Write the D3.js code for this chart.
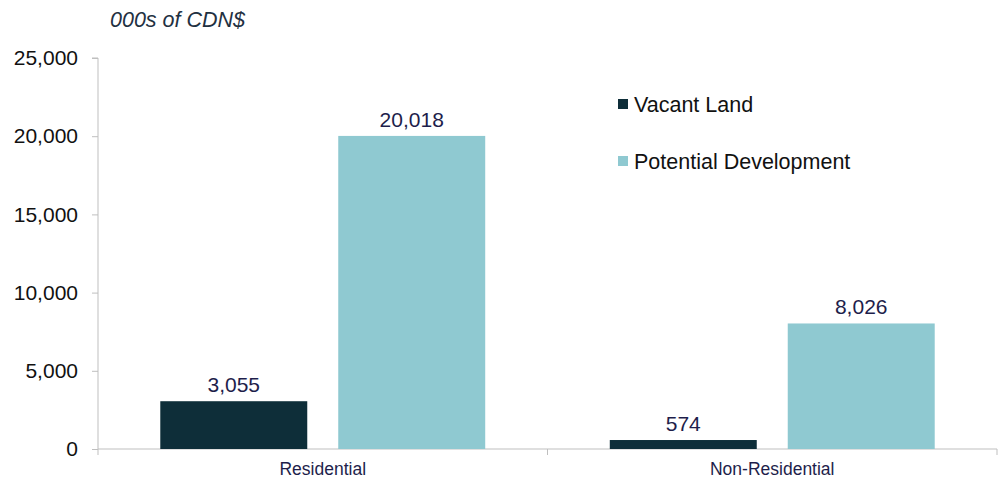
<!DOCTYPE html>
<html>
<head>
<meta charset="utf-8">
<script src="https://cdn.jsdelivr.net/npm/d3@7"></script>
<style>
  html, body { margin: 0; padding: 0; background: #fff; }
  svg { display: block; font-family: Arial, "Liberation Sans", sans-serif; }
</style>
</head>
<body>
<svg id="chart" width="1008" height="479"></svg>
<script>
// Land value by use, thousands of Canadian dollars
const categories = ["Residential", "Non-Residential"];
const seriesNames = ["Vacant Land", "Potential Development"];
const vacantLand = [3055, 574];
const potentialDevelopment = [20018, 8026];
const yTicks = [0, 5000, 10000, 15000, 20000, 25000];
const colors = ["#0e2e39", "#8fc9d1"];

const svg = d3.select("#chart");
const plot = { left: 98, right: 997, top: 58, bottom: 449 };

const x = d3.scaleBand().domain(categories).range([plot.left, plot.right]);
const xs = d3.scaleBand().domain(seriesNames).range([0, x.bandwidth()])
  .paddingInner(31 / 178).paddingOuter(0.35);
const y = d3.scaleLinear().domain([0, 25000]).range([plot.bottom, plot.top]);

const fmt = d3.format(",");
const axisColor = "#bfbfbf";

// Y axis
const yAxis = svg.append("g")
  .attr("transform", `translate(${plot.left},0)`)
  .call(d3.axisLeft(y).tickValues(yTicks).tickFormat(fmt).tickSize(6).tickPadding(14));
yAxis.select(".domain").attr("stroke", axisColor).attr("d", `M-6,${plot.top}H0V${plot.bottom}`);
yAxis.selectAll(".tick line").attr("stroke", axisColor);
yAxis.selectAll(".tick text").attr("font-size", 21).attr("fill", "#111")
  .attr("font-family", "Arial, 'Liberation Sans', sans-serif");

// X axis with category boundary ticks
const xAxis = svg.append("g").attr("transform", `translate(0,${plot.bottom})`);
xAxis.append("line").attr("x1", plot.left).attr("x2", plot.right)
  .attr("stroke", axisColor);
const boundaries = categories.map(c => x(c)).concat([plot.right]);
xAxis.selectAll("line.b").data(boundaries).join("line").attr("class", "b")
  .attr("x1", d => d).attr("x2", d => d).attr("y1", 0).attr("y2", 6)
  .attr("stroke", axisColor);
xAxis.selectAll("text").data(categories).join("text")
  .attr("x", d => x(d) + x.bandwidth() / 2).attr("y", 26)
  .attr("text-anchor", "middle").attr("font-size", 17.5).attr("fill", "#1e1e4b")
  .text(d => d);

// Bars
const rows = categories.map((c, i) => ({
  category: c,
  values: [
    { series: seriesNames[0], value: vacantLand[i], color: colors[0] },
    { series: seriesNames[1], value: potentialDevelopment[i], color: colors[1] }
  ]
}));

const groups = svg.append("g").selectAll("g").data(rows).join("g")
  .attr("transform", d => `translate(${x(d.category)},0)`);

groups.selectAll("rect").data(d => d.values).join("rect")
  .attr("x", d => xs(d.series)).attr("width", xs.bandwidth())
  .attr("y", d => y(d.value)).attr("height", d => y(0) - y(d.value))
  .attr("fill", d => d.color);

groups.selectAll("text").data(d => d.values).join("text")
  .attr("x", d => xs(d.series) + xs.bandwidth() / 2)
  .attr("y", d => y(d.value) - 9)
  .attr("text-anchor", "middle").attr("font-size", 21).attr("fill", "#1e1e4b")
  .text(d => fmt(d.value));

// Unit title
svg.append("text").attr("x", 110).attr("y", 27)
  .attr("font-size", 21.5).attr("font-style", "italic").attr("fill", "#1f3142")
  .text("000s of CDN$");

// Legend
const legend = svg.append("g").selectAll("g").data(seriesNames).join("g")
  .attr("transform", (d, i) => `translate(618,${104 + i * 57})`);
legend.append("rect").attr("x", 0).attr("y", -5).attr("width", 10).attr("height", 10)
  .attr("fill", (d, i) => colors[i]);
legend.append("text").attr("x", 16).attr("y", 7.5).attr("font-size", 21.5)
  .attr("fill", "#111").text(d => d);
</script>
</body>
</html>
